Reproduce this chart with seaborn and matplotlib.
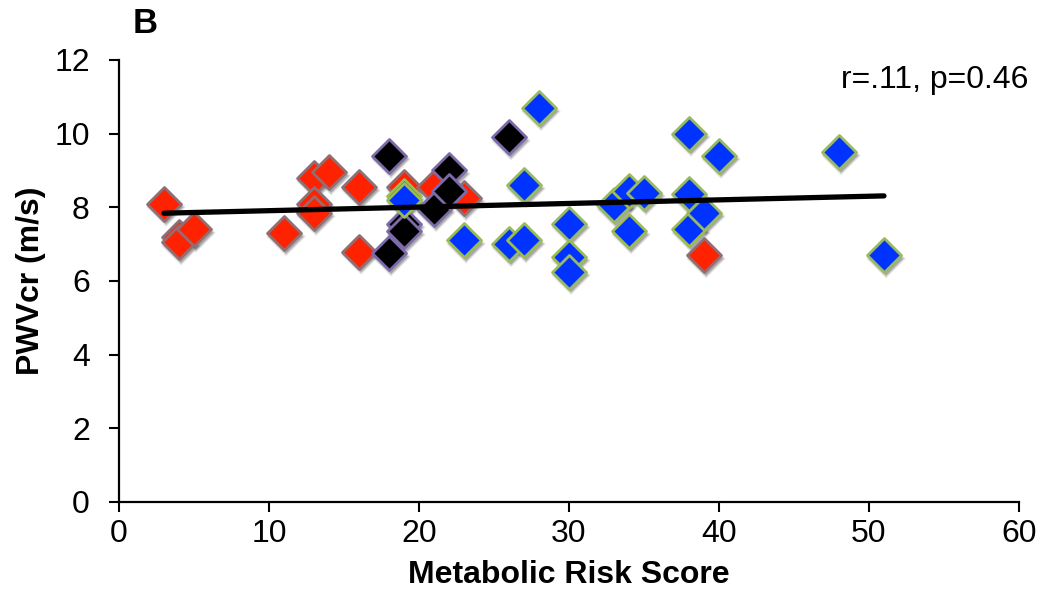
import numpy as np
import pandas as pd
import seaborn as sns
import matplotlib.pyplot as plt
from matplotlib.transforms import ScaledTranslation

# Metabolic risk score vs PWVcr, three subject groups
red_x = [3, 4, 4, 5, 11, 13, 13, 13, 14, 16, 16, 19, 21, 23, 39]
red_y = [8.1, 7.2, 7.05, 7.4, 7.3, 8.8, 8.1, 7.85, 8.95, 8.55, 6.8, 8.55, 8.55, 8.25, 6.7]

black_x = [18, 18, 19, 19, 21, 22, 22, 26]
black_y = [9.4, 6.75, 7.55, 7.35, 7.95, 9.0, 8.45, 9.9]

blue_x = [19, 19, 23, 26, 27, 27, 28, 30, 30, 30, 33, 34, 34, 35, 38, 38, 38, 39, 40, 48, 51]
blue_y = [8.3, 8.2, 7.1, 7.0, 7.1, 8.6, 10.7, 7.55, 6.65, 6.25, 8.05, 8.45, 7.35, 8.4,
          10.0, 8.35, 7.4, 7.85, 9.4, 9.5, 6.7]

# Linear trend line endpoints
trend_x = [3, 51]
trend_y = [7.84, 8.31]

x_ticks = [0, 10, 20, 30, 40, 50, 60]
y_ticks = [0, 2, 4, 6, 8, 10, 12]

sns.set_theme(style="white")
plt.rcParams["font.family"] = ["Liberation Sans", "DejaVu Sans"]

fig = plt.figure(figsize=(10.42, 6.07), dpi=100)
ax = fig.add_axes([0.1142, 0.1730, 0.8637, 0.7282])

groups = [
    (red_x, red_y, "#ff2200", "#8f6f75"),
    (black_x, black_y, "#000000", "#7d6aa8"),
    (blue_x, blue_y, "#0033ff", "#9bbb59"),
]

marker_size = 300
shadow_offset = ScaledTranslation(1.5 / 72, -2.5 / 72, fig.dpi_scale_trans)

for gx, gy, face, edge in groups:
    df = pd.DataFrame({"x": gx, "y": gy})
    # soft drop shadow beneath each diamond, built from a few faint layers
    for grow, alpha in [(1.35, 0.10), (1.18, 0.15), (1.0, 0.25)]:
        before = len(ax.collections)
        sns.scatterplot(data=df, x="x", y="y", ax=ax, marker="D",
                        s=marker_size * grow, color="#333333", edgecolor="none",
                        alpha=alpha, zorder=2, legend=False)
        for coll in ax.collections[before:]:
            coll.set_transform(coll.get_transform() + shadow_offset)
    sns.scatterplot(data=df, x="x", y="y", ax=ax, marker="D", s=marker_size,
                    color=face, edgecolor=edge, linewidth=2.0, zorder=3,
                    legend=False)

trend = pd.DataFrame({"x": trend_x, "y": trend_y})
sns.lineplot(data=trend, x="x", y="y", ax=ax, color="black", linewidth=3.8,
             zorder=5, solid_capstyle="round")

ax.set_xlim(0, 60)
ax.set_ylim(0, 12)
ax.set_xticks(x_ticks)
ax.set_yticks(y_ticks)
ax.tick_params(axis="both", which="major", labelsize=23, direction="out",
               length=7, width=1.5, color="black", bottom=True, left=True,
               labelcolor="black")
ax.tick_params(axis="x", pad=5)
ax.tick_params(axis="y", pad=14)

sns.despine(ax=ax)
for side in ("left", "bottom"):
    ax.spines[side].set_color("black")
    ax.spines[side].set_linewidth(1.6)

ax.set_xlabel("Metabolic Risk Score", fontsize=23, fontweight="bold",
              color="black", labelpad=8)
ax.set_ylabel("PWVcr (m/s)", fontsize=23, fontweight="bold",
              color="black", labelpad=6)

fig.text(0.139, 0.962, "B", fontsize=25, fontweight="bold", color="black",
         ha="center", va="center")
ax.text(1.01, 0.955, "r=.11, p=0.46", transform=ax.transAxes, fontsize=23,
        color="black", ha="right", va="center")

fig.savefig("out.png", dpi=100)
